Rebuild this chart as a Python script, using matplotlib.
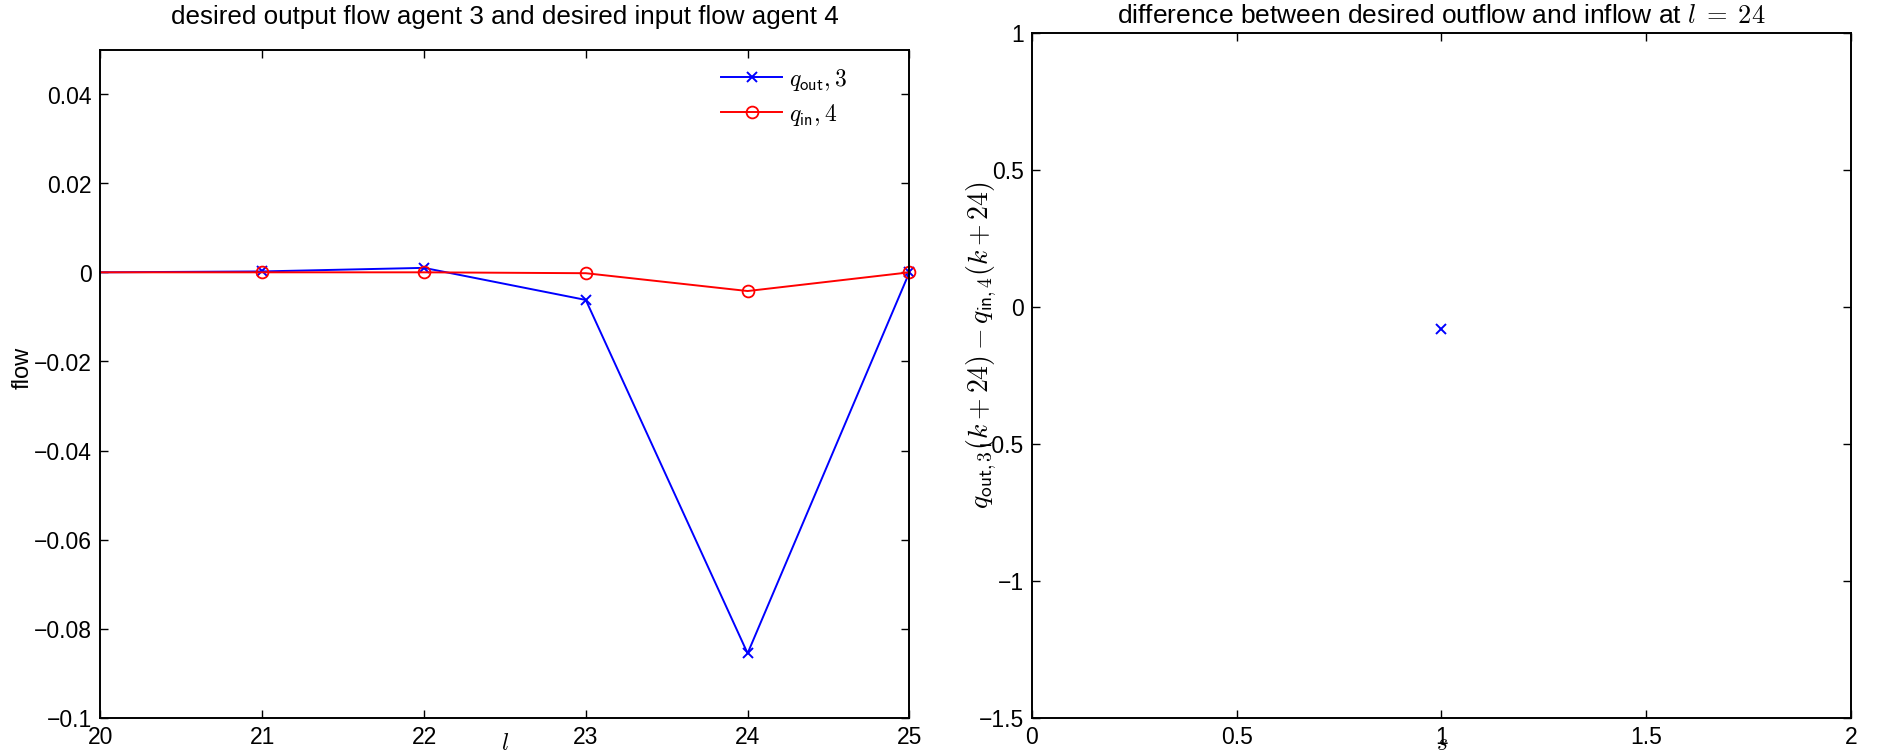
import numpy as np
import matplotlib
matplotlib.use('Agg')
import matplotlib.pyplot as plt

plt.rcParams['font.family'] = ['Liberation Sans', 'DejaVu Sans']
plt.rcParams['mathtext.fontset'] = 'cm'
plt.rcParams['font.size'] = 16.5

# time steps l and the desired flows around them
steps = [20, 21, 22, 23, 24, 25]
q_out_3 = [0.0, 0.0002, 0.0010, -0.0062, -0.0855, 0.0]
q_in_4 = [0.0, 0.0, 0.0, -0.0002, -0.0042, 0.0]

# difference at l = 24 for the single step s
s_vals = [1]
diff_24 = [-0.0813]


def matlab_axes(ax):
    for sp in ax.spines.values():
        sp.set_linewidth(1.4)
    ax.tick_params(direction='in', length=6, width=1.0, top=True, right=True,
                   labelsize=16.5)
    ax.tick_params(axis='x', pad=5.5)
    ax.tick_params(axis='y', pad=6)


def bottom_xlabel(ax, text):
    # put the x label right at the lower edge of the figure
    ax.set_xlabel(text, fontsize=17, va='bottom')
    h = ax.get_position().height * fig.get_figheight() * fig.dpi
    y0 = ax.get_position().y0 * fig.get_figheight() * fig.dpi
    ax.xaxis.set_label_coords(0.5, -(y0 - 2) / h)


fig = plt.figure(figsize=(18.77, 7.565), dpi=100)

ax1 = fig.add_axes([0.0535, 0.0503, 0.431, 0.8836])
ax1.plot(steps, q_out_3, color='blue', lw=1.4, marker='x', ms=7, mew=1.4,
         markevery=slice(1, None), label=r'$q_{\mathsf{out}},3$', clip_on=False)
ax1.plot(steps, q_in_4, color='red', lw=1.4, marker='o', ms=8.5, mew=1.3,
         mfc='none', markevery=slice(1, None), label=r'$q_{\mathsf{in}},4$',
         clip_on=False)
ax1.set_xlim(20, 25)
ax1.set_ylim(-0.1, 0.05)
ax1.set_xticks(np.arange(20, 26, 1))
ax1.set_yticks(np.arange(-0.1, 0.041, 0.02))
ax1.set_yticklabels(['\u22120.1', '\u22120.08', '\u22120.06', '\u22120.04',
                     '\u22120.02', '0', '0.02', '0.04'])
bottom_xlabel(ax1, r'$l$')
ax1.set_ylabel('flow', fontsize=17)
ax1.yaxis.set_label_coords(-0.082, 0.525)
ax1.set_title('desired output flow agent 3 and desired input flow agent 4',
              fontsize=18.7, pad=18.5)
matlab_axes(ax1)
ax1.legend(loc='upper right', bbox_to_anchor=(0.95, 1.006), frameon=False,
           handlelength=2.6, fontsize=17, labelspacing=0.35, handletextpad=0.3)

ax2 = fig.add_axes([0.5498, 0.0503, 0.4363, 0.906])
ax2.plot(s_vals, diff_24, linestyle='none', color='blue', marker='x', ms=7,
         mew=1.4)
ax2.set_xlim(0, 2)
ax2.set_ylim(-1.5, 1)
ax2.set_xticks([0, 0.5, 1, 1.5, 2])
ax2.set_xticklabels(['0', '0.5', '1', '1.5', '2'])
ax2.set_yticks([-1.5, -1, -0.5, 0, 0.5, 1])
ax2.set_yticklabels(['\u22121.5', '\u22121', '\u22120.5', '0', '0.5', '1'])
bottom_xlabel(ax2, r'$s$')
ax2.set_ylabel(r'$q_{\mathsf{out},3}(k+24)-q_{\mathsf{in},4}(k+24)$',
               fontsize=20)
ax2.yaxis.set_label_coords(-0.04, 0.545)
ax2.set_title(r'difference between desired outflow and inflow at $l\;=\;24$',
              fontsize=19, pad=7)
matlab_axes(ax2)

fig.savefig('out.png', dpi=100)
